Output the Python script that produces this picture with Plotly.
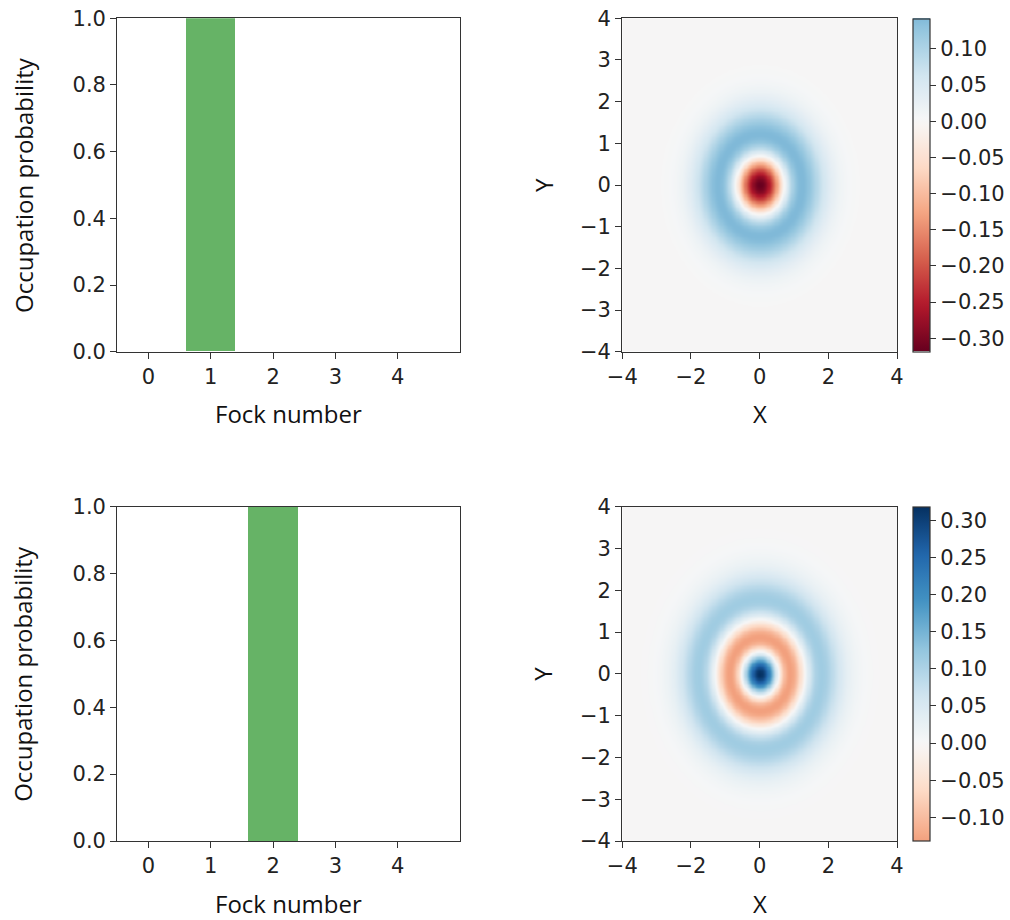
import numpy as np
import plotly.graph_objects as go

# ---------------- data ----------------
fock_numbers = [0, 1, 2, 3, 4]
probs_state_top = [0.0, 1.0, 0.0, 0.0, 0.0]
probs_state_bottom = [0.0, 0.0, 1.0, 0.0, 0.0]

prob_ticks = [0.0, 0.2, 0.4, 0.6, 0.8, 1.0]
x_phase_ticks = [-4, -2, 0, 2, 4]
y_phase_ticks = [-4, -3, -2, -1, 0, 1, 2, 3, 4]
cbar_ticks_top = [-0.30, -0.25, -0.20, -0.15, -0.10, -0.05, 0.00, 0.05, 0.10]
cbar_ticks_bottom = [-0.10, -0.05, 0.00, 0.05, 0.10, 0.15, 0.20, 0.25, 0.30]

# RdBu (ColorBrewer 11-class, as used by matplotlib)
rdbu = [(103, 0, 31), (178, 24, 43), (214, 96, 77), (244, 165, 130), (253, 219, 199),
        (247, 247, 247), (209, 229, 240), (146, 197, 222), (67, 147, 195), (33, 102, 172),
        (5, 48, 97)]

# phase-space grid
xv = np.linspace(-4, 4, 241)
yv = np.linspace(-4, 4, 241)


def wigner_from_probs(probs):
    X, Y = np.meshgrid(xv, yv)
    r2 = X ** 2 + Y ** 2
    W = np.zeros_like(r2)
    for n, p in enumerate(probs):
        if p == 0:
            continue
        c = np.zeros(n + 1)
        c[n] = 1.0
        Ln = np.polynomial.laguerre.lagval(2 * r2, c)
        W += p * ((-1) ** n) / np.pi * np.exp(-r2) * Ln
    return W


def rdbu_at(t):
    t = min(max(t, 0.0), 1.0)
    pos = t * (len(rdbu) - 1)
    i = int(np.floor(pos))
    if i >= len(rdbu) - 1:
        c = rdbu[-1]
    else:
        f = pos - i
        c = tuple(rdbu[i][k] + (rdbu[i + 1][k] - rdbu[i][k]) * f for k in range(3))
    return "rgb(%d,%d,%d)" % tuple(int(round(v)) for v in c)


def truncated_scale(zmin, zmax):
    vmax = max(abs(zmin), abs(zmax))
    scale = []
    for s in np.linspace(0, 1, 41):
        v = zmin + s * (zmax - zmin)
        t = (v + vmax) / (2 * vmax)
        scale.append([float(s), rdbu_at(t)])
    return scale


def fmt(v, d=2):
    s = f"{abs(v):.{d}f}"
    return ("\u2212" + s) if v < -1e-12 else s


# ---------------- layout geometry ----------------
W_PX, H_PX = 1010, 920
left_x = [117.3 / W_PX, 460 / W_PX]
right_x = [622.3 / W_PX, 897 / W_PX]
rows = [(18.3, 351.7), (506.7, 841.0)]
rows_dom = [[1 - b / H_PX, 1 - t / H_PX] for t, b in rows]

tick_font = dict(family="DejaVu Sans", size=21, color="#222")
label_font = dict(family="Open Sans", size=24, color="#111")
axis_common = dict(showline=True, linecolor="#333", linewidth=1.3, mirror=True,
                   ticks="outside", ticklen=6, tickwidth=1.3, tickcolor="#333",
                   showgrid=False, zeroline=False, tickfont=tick_font, automargin=False)

fig = go.Figure()

states = [probs_state_top, probs_state_bottom]
cticks = [cbar_ticks_top, cbar_ticks_bottom]
annotations = []

for r, probs in enumerate(states):
    xa = "x" if r == 0 else "x3"
    ya = "y" if r == 0 else "y3"
    xa2 = "x2" if r == 0 else "x4"
    ya2 = "y2" if r == 0 else "y4"
    fig.add_trace(go.Bar(x=fock_numbers, y=probs, width=0.8,
                         marker=dict(color="rgba(0,128,0,0.6)", line=dict(width=0)),
                         xaxis=xa, yaxis=ya, showlegend=False))
    W = wigner_from_probs(probs)
    zmin, zmax = float(W.min()), float(W.max())
    t, b = rows[r]
    fig.add_trace(go.Heatmap(
        x=xv, y=yv, z=W, zmin=zmin, zmax=zmax, zsmooth="best",
        colorscale=truncated_scale(zmin, zmax),
        xaxis=xa2, yaxis=ya2,
        colorbar=dict(x=913.3 / W_PX, xanchor="left", xpad=0, ypad=0,
                      y=1 - (t + b) / 2 / H_PX, yanchor="middle",
                      len=(b - t) / H_PX, lenmode="fraction", thickness=17,
                      outlinewidth=1.2, outlinecolor="#333",
                      ticks="outside", ticklen=6, tickwidth=1.3, tickcolor="#333",
                      tickvals=cticks[r], ticktext=[fmt(v) for v in cticks[r]],
                      tickfont=tick_font)))
    cy = 1 - (t + b) / 2 / H_PX
    xlab_y = 1 - (b + 62) / H_PX
    annotations += [
        dict(text="Fock number", x=(left_x[0] + left_x[1]) / 2, y=xlab_y,
             xref="paper", yref="paper", showarrow=False, font=label_font,
             xanchor="center", yanchor="middle"),
        dict(text="X", x=(right_x[0] + right_x[1]) / 2, y=xlab_y,
             xref="paper", yref="paper", showarrow=False, font=label_font,
             xanchor="center", yanchor="middle"),
        dict(text="Occupation probability", x=23 / W_PX, y=cy, textangle=-90,
             xref="paper", yref="paper", showarrow=False, font=label_font,
             xanchor="center", yanchor="middle"),
        dict(text="Y", x=543 / W_PX, y=cy, textangle=-90,
             xref="paper", yref="paper", showarrow=False, font=label_font,
             xanchor="center", yanchor="middle"),
    ]

layout = dict(width=W_PX, height=H_PX,
              margin=dict(l=0, r=0, t=0, b=0, pad=0, autoexpand=False),
              paper_bgcolor="white", plot_bgcolor="white", annotations=annotations,
              bargap=0)

for r in range(2):
    sfx_l = "" if r == 0 else "3"
    sfx_r = "2" if r == 0 else "4"
    layout["xaxis" + sfx_l] = dict(axis_common, domain=left_x, range=[-0.5, 5.0],
                                   anchor="y" + sfx_l, tickvals=fock_numbers,
                                   ticktext=[str(v) for v in fock_numbers])
    layout["yaxis" + sfx_l] = dict(axis_common, domain=rows_dom[r], range=[0, 1],
                                   anchor="x" + sfx_l, tickvals=prob_ticks,
                                   ticktext=[f"{v:.1f}" for v in prob_ticks])
    layout["xaxis" + sfx_r] = dict(axis_common, domain=right_x, range=[-4, 4],
                                   anchor="y" + sfx_r, tickvals=x_phase_ticks,
                                   ticktext=[fmt(v, 0) for v in x_phase_ticks])
    layout["yaxis" + sfx_r] = dict(axis_common, domain=rows_dom[r], range=[-4, 4],
                                   anchor="x" + sfx_r, tickvals=y_phase_ticks,
                                   ticktext=[fmt(v, 0) for v in y_phase_ticks])

fig.update_layout(**layout)
fig.write_html("out.html")
